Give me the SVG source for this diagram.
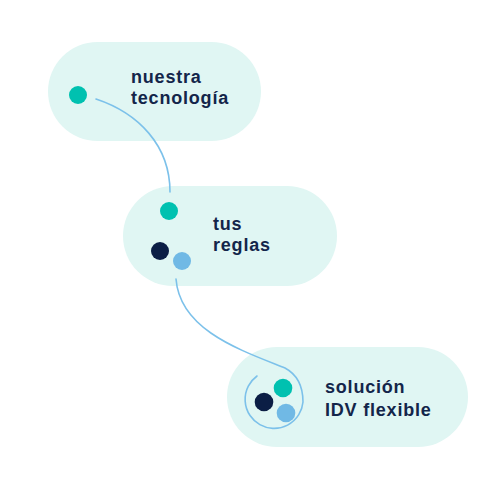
<svg xmlns="http://www.w3.org/2000/svg" width="480" height="480" viewBox="0 0 480 480">
<style>
.pill{fill:#e0f6f3}
.teal{fill:#00c1b0}
.navy{fill:#0b1e45}
.blue{fill:#70b9e5}
.lbl{font-family:"Liberation Sans",Arial,sans-serif;font-weight:700;font-size:18px;fill:#13254a;letter-spacing:0.8px}
.conn{fill:none;stroke:#7cc1ea;stroke-width:1.6;stroke-linecap:round}
</style>
<rect width="480" height="480" fill="#ffffff"/>
<g id="node-tecnologia">
<rect class="pill" x="48" y="42" width="213" height="99" rx="49.5"/>
<circle class="teal" cx="78" cy="95" r="9"/>
<text class="lbl" x="131" y="83">nuestra</text>
<text class="lbl" x="131" y="104">tecnología</text>
</g>
<g id="node-reglas">
<rect class="pill" x="123" y="186" width="214" height="100" rx="50"/>
<circle class="teal" cx="169" cy="211" r="9"/>
<circle class="navy" cx="160" cy="251" r="9"/>
<circle class="blue" cx="182" cy="261" r="9"/>
<text class="lbl" x="213" y="230">tus</text>
<text class="lbl" x="213" y="251">reglas</text>
</g>
<g id="node-solucion">
<rect class="pill" x="227" y="347" width="241" height="100" rx="50"/>
<circle class="teal" cx="283" cy="388" r="9.3"/>
<circle class="navy" cx="264" cy="402" r="9.3"/>
<circle class="blue" cx="286" cy="413" r="9.3"/>
<text class="lbl" x="325" y="393">solución</text>
<text class="lbl" x="325" y="416">IDV flexible</text>
</g>
<g id="connectors">
<path class="conn" d="M96,99 C138,113 170,145 170,192"/>
<path class="conn" d="M176,279 C180,330 240,350 285,368 C298,375 303,388 303,402 A29,29 0 1 1 257,376"/>
</g>
</svg>
